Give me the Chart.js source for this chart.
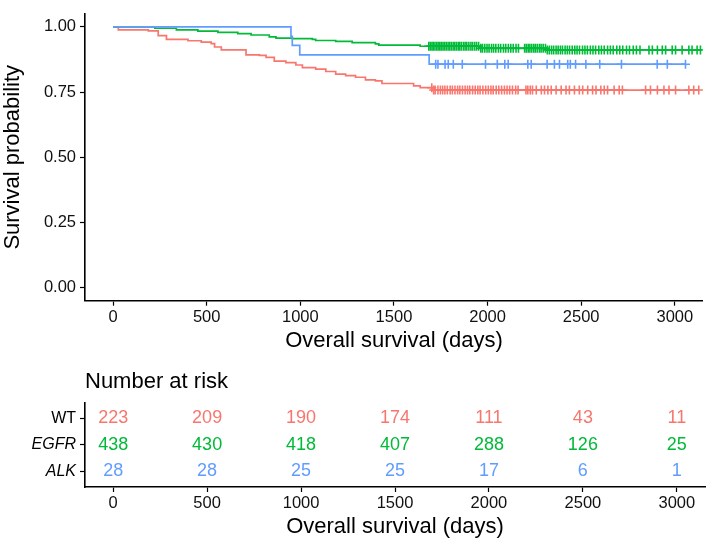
<!DOCTYPE html>
<html>
<head>
<meta charset="utf-8">
<title>Overall survival</title>
<script src="https://cdn.jsdelivr.net/npm/chart.js@4.4.1/dist/chart.umd.min.js"></script>
<style>
  html, body { margin: 0; padding: 0; background: #fff; }
  #wrap { position: relative; width: 709px; height: 541px; }
  #km { position: absolute; left: 0; top: 0; }
  #risk { position: absolute; left: 0; top: 360px; }
</style>
</head>
<body>
<div id="wrap">
  <canvas id="km" width="709" height="360" style="width:709px;height:360px"></canvas>
  <canvas id="risk" width="709" height="181" style="width:709px;height:181px"></canvas>
</div>
<script>
const groups = ["WT", "EGFR", "ALK"];
const colors = ["#F8766D", "#00BA38", "#619CFF"];

const xTicks = [0, 500, 1000, 1500, 2000, 2500, 3000];
const yTicks = [0, 0.25, 0.5, 0.75, 1];

// Kaplan-Meier steps (time in days, survival after the drop)
const wtTimes = [0, 28, 188, 241, 285, 400, 471, 524, 542, 578, 710, 781, 817, 861, 923, 976, 1011, 1082, 1136, 1189, 1242, 1295, 1348, 1401, 1436, 1605, 1640, 1711];
const wtSurv = [1, 0.989, 0.985, 0.967, 0.952, 0.947, 0.942, 0.936, 0.923, 0.912, 0.893, 0.891, 0.883, 0.869, 0.863, 0.854, 0.844, 0.838, 0.829, 0.819, 0.813, 0.807, 0.797, 0.793, 0.783, 0.774, 0.767, 0.758];
const wtEnd = 3128;
const wtCensor = [1702, 1712, 1720, 1735, 1748, 1760, 1772, 1785, 1800, 1812, 1826, 1840, 1852, 1866, 1880, 1893, 1905, 1920, 1934, 1948, 1960, 1975, 1990, 2004, 2018, 2030, 2046, 2060, 2075, 2090, 2104, 2118, 2133, 2150, 2163, 2205, 2215, 2228, 2240, 2260, 2287, 2304, 2322, 2340, 2366, 2393, 2419, 2437, 2464, 2490, 2508, 2535, 2561, 2579, 2605, 2623, 2641, 2676, 2703, 2720, 2844, 2870, 2907, 2942, 2969, 3004, 3075, 3101, 3128];

const egfrTimes = [0, 223, 338, 453, 560, 666, 737, 834, 870, 958, 1064, 1082, 1189, 1277, 1401, 1419, 1640, 1959, 2313];
const egfrSurv = [1, 0.995, 0.989, 0.984, 0.979, 0.974, 0.969, 0.962, 0.957, 0.955, 0.952, 0.948, 0.945, 0.940, 0.935, 0.930, 0.926, 0.918, 0.912];
const egfrEnd = 3137;
const egfrCensor = [1686, 1694, 1703, 1710, 1719, 1728, 1736, 1745, 1753, 1762, 1770, 1779, 1789, 1797, 1806, 1816, 1824, 1833, 1843, 1851, 1860, 1871, 1880, 1889, 1900, 1911, 1920, 1931, 1941, 1952, 1964, 1973, 1985, 1997, 2008, 2021, 2032, 2044, 2058, 2070, 2085, 2097, 2111, 2124, 2137, 2152, 2165, 2198, 2207, 2217, 2226, 2236, 2247, 2256, 2266, 2277, 2286, 2297, 2309, 2319, 2330, 2342, 2353, 2366, 2377, 2389, 2400, 2414, 2426, 2438, 2452, 2466, 2478, 2491, 2507, 2520, 2533, 2549, 2563, 2577, 2594, 2608, 2623, 2641, 2656, 2671, 2690, 2706, 2722, 2742, 2758, 2778, 2795, 2814, 2862, 2880, 2907, 2933, 2951, 2986, 3004, 3039, 3075, 3092, 3119, 3137];

const alkTimes = [0, 950, 957, 997, 1688];
const alkSurv = [1, 0.964, 0.929, 0.893, 0.857];
const alkEnd = 3057;
const alkCensor = [1723, 1735, 1773, 1790, 1817, 1865, 1989, 2052, 2092, 2110, 2215, 2233, 2318, 2357, 2384, 2428, 2442, 2470, 2525, 2599, 2715, 2906, 2960, 3057];

// Number at risk table
const riskTimes = [0, 500, 1000, 1500, 2000, 2500, 3000];
const wtRisk = [223, 209, 190, 174, 111, 43, 11];
const egfrRisk = [438, 430, 418, 407, 288, 126, 25];
const alkRisk = [28, 28, 25, 25, 17, 6, 1];

const FONT = '"Liberation Sans", Arial, Helvetica, sans-serif';
Chart.defaults.font.family = FONT;
Chart.defaults.color = "#000";

function stepData(times, surv, end) {
  const pts = times.map((t, i) => ({ x: t, y: surv[i] }));
  pts.push({ x: end, y: surv[surv.length - 1] });
  return pts;
}

// censor marks sit on the curve at the time they happen
function censorData(times, surv, censor) {
  return censor.map(c => {
    let s = surv[0];
    for (let i = 0; i < times.length; i++) if (times[i] <= c) s = surv[i];
    return { x: c, y: s };
  });
}

const curves = [
  [wtTimes, wtSurv, wtEnd, wtCensor],
  [egfrTimes, egfrSurv, egfrEnd, egfrCensor],
  [alkTimes, alkSurv, alkEnd, alkCensor]
];

const kmSets = [];
curves.forEach(([t, s, e, c], i) => {
  kmSets.push({
    type: "line",
    label: groups[i],
    data: stepData(t, s, e),
    borderColor: colors[i],
    borderWidth: 1.7,
    stepped: true,
    pointRadius: 0,
    fill: false,
    order: 3 - i
  });
  kmSets.push({
    type: "scatter",
    label: groups[i] + " censored",
    data: censorData(t, s, c),
    borderColor: colors[i],
    backgroundColor: colors[i],
    pointStyle: "cross",
    pointRadius: 4.5,
    borderWidth: 1.6,
    order: 3 - i
  });
});

const axisGrid = {
  display: true,
  drawOnChartArea: false,
  drawTicks: true,
  tickLength: 5,
  tickColor: "#000",
  tickWidth: 1.2
};
const axisBorder = { display: true, color: "#000", width: 1.6 };

function xScale(titlePad, labelPad, height) {
  return {
    type: "linear",
    min: -150,
    max: 3150,
    afterBuildTicks: s => { s.ticks = xTicks.map(v => ({ value: v })); },
    afterFit: s => { s.height = height; },
    ticks: { font: { size: 16.5 }, color: "#111", padding: labelPad, maxRotation: 0, callback: v => String(v) },
    grid: axisGrid,
    border: axisBorder,
    title: {
      display: true,
      text: "Overall survival (days)",
      font: { size: 22 },
      color: "#000",
      padding: { top: 0, bottom: titlePad }
    }
  };
}

new Chart(document.getElementById("km"), {
  type: "line",
  data: { datasets: kmSets },
  options: {
    responsive: false,
    animation: false,
    layout: { padding: { top: 3, right: 4, left: 0, bottom: 0 } },
    plugins: { legend: { display: false }, tooltip: { enabled: false } },
    scales: {
      x: xScale(6, 2, 59.3),
      y: {
        type: "linear",
        min: -0.05,
        max: 1.05,
        afterBuildTicks: s => { s.ticks = yTicks.map(v => ({ value: v })); },
        afterFit: s => { s.width = 85; },
        ticks: { font: { size: 16.5 }, color: "#111", padding: 4, callback: v => v.toFixed(2) },
        grid: axisGrid,
        border: axisBorder,
        title: {
          display: true,
          text: "Survival probability",
          font: { size: 22 },
          color: "#000",
          padding: { top: 0, bottom: 0 }
        }
      }
    }
  }
});

const riskCounts = [wtRisk, egfrRisk, alkRisk];

const riskLabels = {
  id: "riskLabels",
  afterDatasetsDraw(chart) {
    const ctx = chart.ctx;
    ctx.save();
    ctx.font = "18px " + FONT;
    ctx.textAlign = "center";
    ctx.textBaseline = "middle";
    chart.data.datasets.forEach((ds, i) => {
      ctx.fillStyle = ds.borderColor;
      chart.getDatasetMeta(i).data.forEach((pt, j) => {
        ctx.fillText(String(riskCounts[i][j]), pt.x, pt.y);
      });
    });
    ctx.textAlign = "left";
    ctx.textBaseline = "alphabetic";
    ctx.fillStyle = "#000";
    ctx.font = "22px " + FONT;
    ctx.fillText("Number at risk", chart.chartArea.left, chart.chartArea.top - 14.7);
    ctx.restore();
  }
};

new Chart(document.getElementById("risk"), {
  type: "scatter",
  data: {
    datasets: groups.map((g, i) => ({
      label: g,
      data: riskTimes.map(t => ({ x: t, y: i + 1 })),
      borderColor: colors[i],
      pointRadius: 0
    }))
  },
  options: {
    responsive: false,
    animation: false,
    layout: { padding: { top: 42.7, right: 4, left: 0, bottom: 0 } },
    plugins: { legend: { display: false }, tooltip: { enabled: false } },
    scales: {
      x: xScale(1, 2, 54),
      y: {
        type: "linear",
        min: 0.4,
        max: 3.6,
        reverse: true,
        afterBuildTicks: s => { s.ticks = [1, 2, 3].map(v => ({ value: v })); },
        afterFit: s => { s.width = 85; },
        ticks: {
          color: "#000",
          padding: 4,
          font: ctx => ({ size: 16, style: ctx.index > 0 ? "italic" : "normal" }),
          callback: v => groups[v - 1]
        },
        grid: axisGrid,
        border: axisBorder
      }
    }
  },
  plugins: [riskLabels]
});
</script>
</body>
</html>
